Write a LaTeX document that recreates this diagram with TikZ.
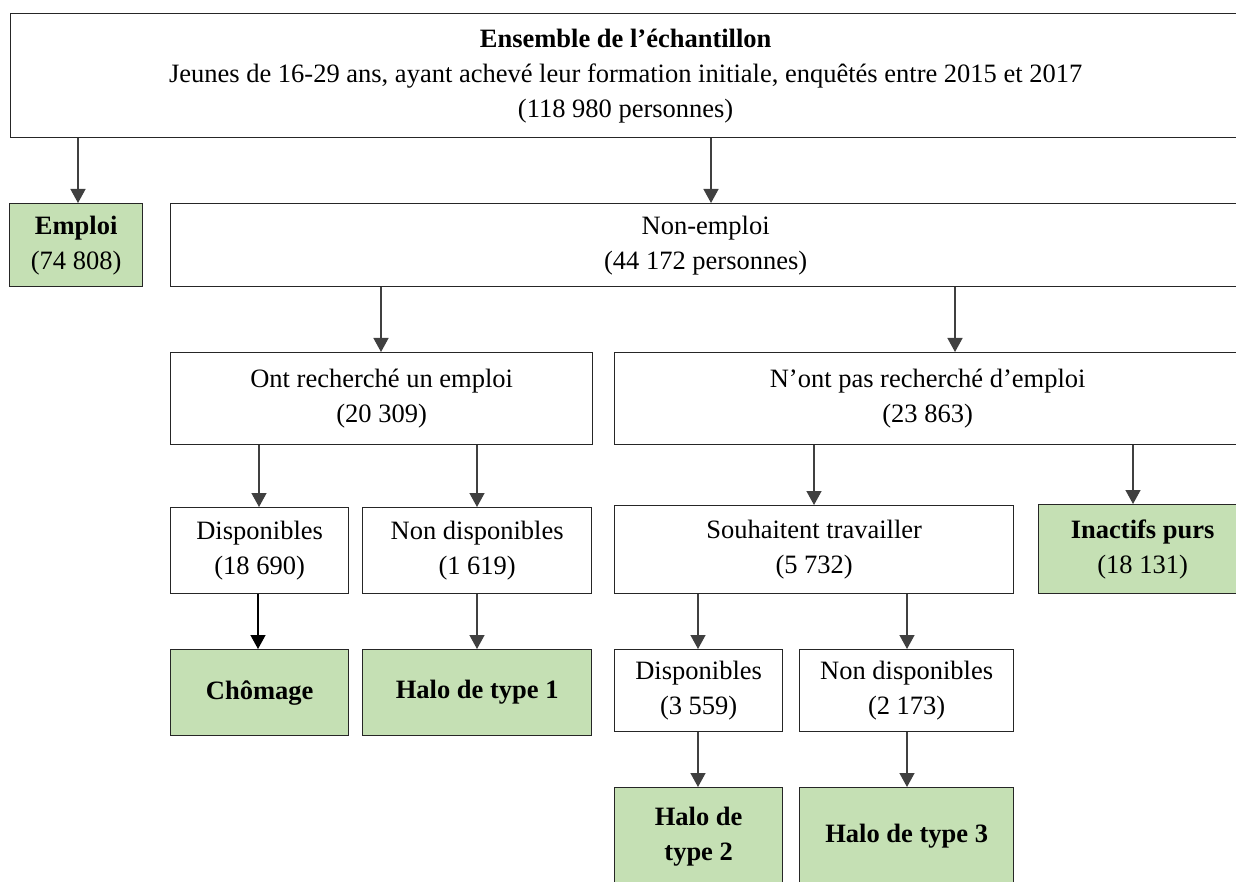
\documentclass[tikz,border=0pt]{standalone}
\usepackage{fontspec}
\setmainfont{Liberation Serif}
\usetikzlibrary{arrows.meta}
\definecolor{vert}{HTML}{C5E0B4}
\definecolor{arrgray}{HTML}{404040}
\definecolor{boxline}{HTML}{262626}
\tikzset{
  box/.style={draw=boxline, line width=1.3pt, fill=white, align=center, inner sep=0pt,
    anchor=north west, font=\fontsize{26.5}{35}\selectfont},
  gbox/.style={box, fill=vert, font=\fontsize{26.5}{35}\selectfont\bfseries},
  arr/.style={draw=arrgray, line width=1.4pt, -{Triangle[length=14pt,width=15pt]}},
}
\begin{document}
\begin{tikzpicture}[x=1pt,y=-1pt]
\useasboundingbox (0,0) rectangle (1236,882);
\clip (0,0) rectangle (1236,882);
\node[box, minimum width=1230pt, minimum height=124pt] (top) at (10,13)
  {\textbf{Ensemble de l’échantillon}\\Jeunes de 16-29 ans, ayant achevé leur formation initiale, enquêtés entre 2015 et 2017\\(118 980 personnes)};
\node[gbox, minimum width=133pt, minimum height=83pt] (emploi) at (9,203)
  {Emploi\\\mdseries(74 808)};
\node[box, minimum width=1070pt, minimum height=83pt] (nonemploi) at (170,203)
  {Non-emploi\\(44 172 personnes)};
\node[box, minimum width=422pt, minimum height=92pt] (ont) at (170,352)
  {Ont recherché un emploi\\(20 309)};
\node[box, minimum width=626pt, minimum height=92pt] (nont) at (614,352)
  {N’ont pas recherché d’emploi\\(23 863)};
\node[box, minimum width=178pt, minimum height=86pt] (dispA) at (170,507)
  {Disponibles\\(18 690)};
\node[box, minimum width=229pt, minimum height=86pt] (nondispA) at (362,507)
  {Non disponibles\\(1 619)};
\node[box, minimum width=399pt, minimum height=88pt] (souh) at (614,505)
  {Souhaitent travailler\\(5 732)};
\node[gbox, minimum width=208pt, minimum height=89pt] (inact) at (1038,504)
  {Inactifs purs\\\mdseries(18 131)};
\node[gbox, minimum width=178pt, minimum height=86pt] (chom) at (170,649)
  {Chômage};
\node[gbox, minimum width=229pt, minimum height=86pt] (halo1) at (362,649)
  {Halo de type 1};
\node[box, minimum width=168pt, minimum height=82pt] (dispB) at (614,649)
  {Disponibles\\(3 559)};
\node[box, minimum width=214pt, minimum height=82pt] (nondispB) at (799,649)
  {Non disponibles\\(2 173)};
\node[gbox, minimum width=168pt, minimum height=98pt] (halo2) at (614,787)
  {Halo de\\type 2};
\node[gbox, minimum width=214pt, minimum height=98pt] (halo3) at (799,787)
  {Halo de type 3};
% connectors
\draw[arr] (top.south -| 78,0) -- (emploi.north -| 78,0);
\draw[arr] (top.south -| 711,0) -- (nonemploi.north -| 711,0);
\draw[arr] (nonemploi.south -| 381,0) -- (ont.north -| 381,0);
\draw[arr] (nonemploi.south -| 955,0) -- (nont.north -| 955,0);
\draw[arr] (ont.south -| 259,0) -- (dispA.north -| 259,0);
\draw[arr] (ont.south -| 477,0) -- (nondispA.north -| 477,0);
\draw[arr] (nont.south -| 814,0) -- (souh.north -| 814,0);
\draw[arr] (nont.south -| 1133,0) -- (inact.north -| 1133,0);
\draw[arr, draw=black] (dispA.south -| 258,0) -- (chom.north -| 258,0);
\draw[arr] (nondispA.south -| 477,0) -- (halo1.north -| 477,0);
\draw[arr] (souh.south -| 698,0) -- (dispB.north -| 698,0);
\draw[arr] (souh.south -| 907,0) -- (nondispB.north -| 907,0);
\draw[arr] (dispB.south -| 698,0) -- (halo2.north -| 698,0);
\draw[arr] (nondispB.south -| 907,0) -- (halo3.north -| 907,0);
\end{tikzpicture}
\end{document}
